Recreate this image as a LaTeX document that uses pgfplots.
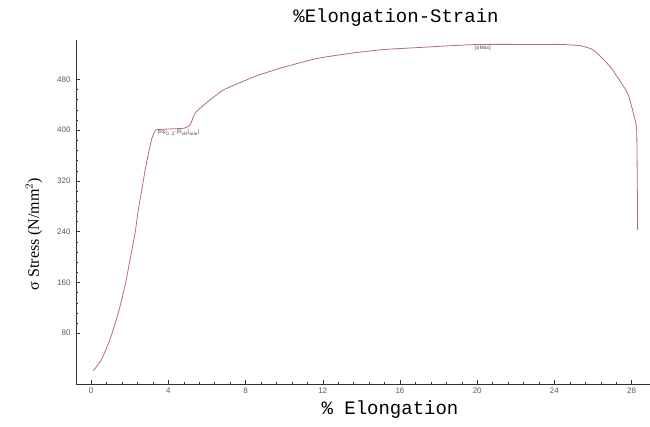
\documentclass[border=0pt]{standalone}
\usepackage{pgfplots}
\pgfplotsset{compat=1.18}
\usepackage{fontspec}
\setmainfont{Liberation Serif}
\newfontfamily\ticksans{Liberation Sans}
\newfontfamily\monofont{Liberation Mono}
\definecolor{curvecol}{RGB}{180,110,110}
\definecolor{tickgray}{RGB}{90,90,90}

\begin{document}
\begin{tikzpicture}
\path[use as bounding box] (0pt,0pt) rectangle (650pt,426pt);
\begin{axis}[
  at={(76pt,42pt)}, anchor=south west,
  scale only axis, width=574pt, height=344pt,
  xmin=-0.78, xmax=28.95, ymin=0, ymax=542,
  axis lines=left, axis line style={-, black!80, thin},
  xtick={0,4,...,28}, ytick={80,160,...,480},
  minor tick num=4,
  tick align=inside,
  tick style={black!80, thin},
  major tick length=4pt, minor tick length=2pt,
  ticklabel style={font=\ticksans\fontsize{8}{9}\selectfont, text=tickgray},
  yticklabel style={xshift=-2pt},
  /pgf/number format/assume math mode=true,
  clip=false,
]
\addplot[curvecol, line width=0.8pt, line join=round, smooth, tension=0.3] coordinates {
(0.12,21) (0.55,39) (0.99,71) (1.42,113) (1.76,155) (2.02,196)
(2.28,238) (2.45,275) (2.63,306) (2.80,337) (2.97,363) (3.15,387)
(3.32,399) (3.49,401) (4.20,402) (4.80,403) (5.13,408) (5.39,427)
(6.01,444) (6.84,463) (7.73,475) (8.61,486) (9.96,499) (11.72,513)
(13.43,521) (15.14,527) (16.90,530) (18.61,533) (20.17,535) (23.28,535)
(24.32,535) (25.35,533) (26.03,526) (26.91,499) (27.79,458) (28.15,419)
(28.26,400) (28.29,320) (28.31,243)
};
\node[font=\ticksans\fontsize{5}{5}\selectfont, text=black!75, anchor=west, inner sep=0pt]
  at (axis cs:3.45,396) {[Rp$_{0.2}$-[R$_{\mathrm{eH}}$]$_{\mathrm{min}}$]};
\node[font=\ticksans\fontsize{5}{5}\selectfont, text=black!75, inner sep=0pt]
  at (axis cs:20.3,529) {[σMax]};
\end{axis}
\node[font=\monofont\fontsize{19}{20}\selectfont] at (396pt,408pt) {\%Elongation-Strain};
\node[font=\monofont\fontsize{19}{20}\selectfont] at (390pt,16pt) {\% Elongation};
\node[font=\fontsize{16}{18}\selectfont, rotate=90] at (34pt,192pt) {σ Stress (N/mm$^2$)};
\end{tikzpicture}
\end{document}
